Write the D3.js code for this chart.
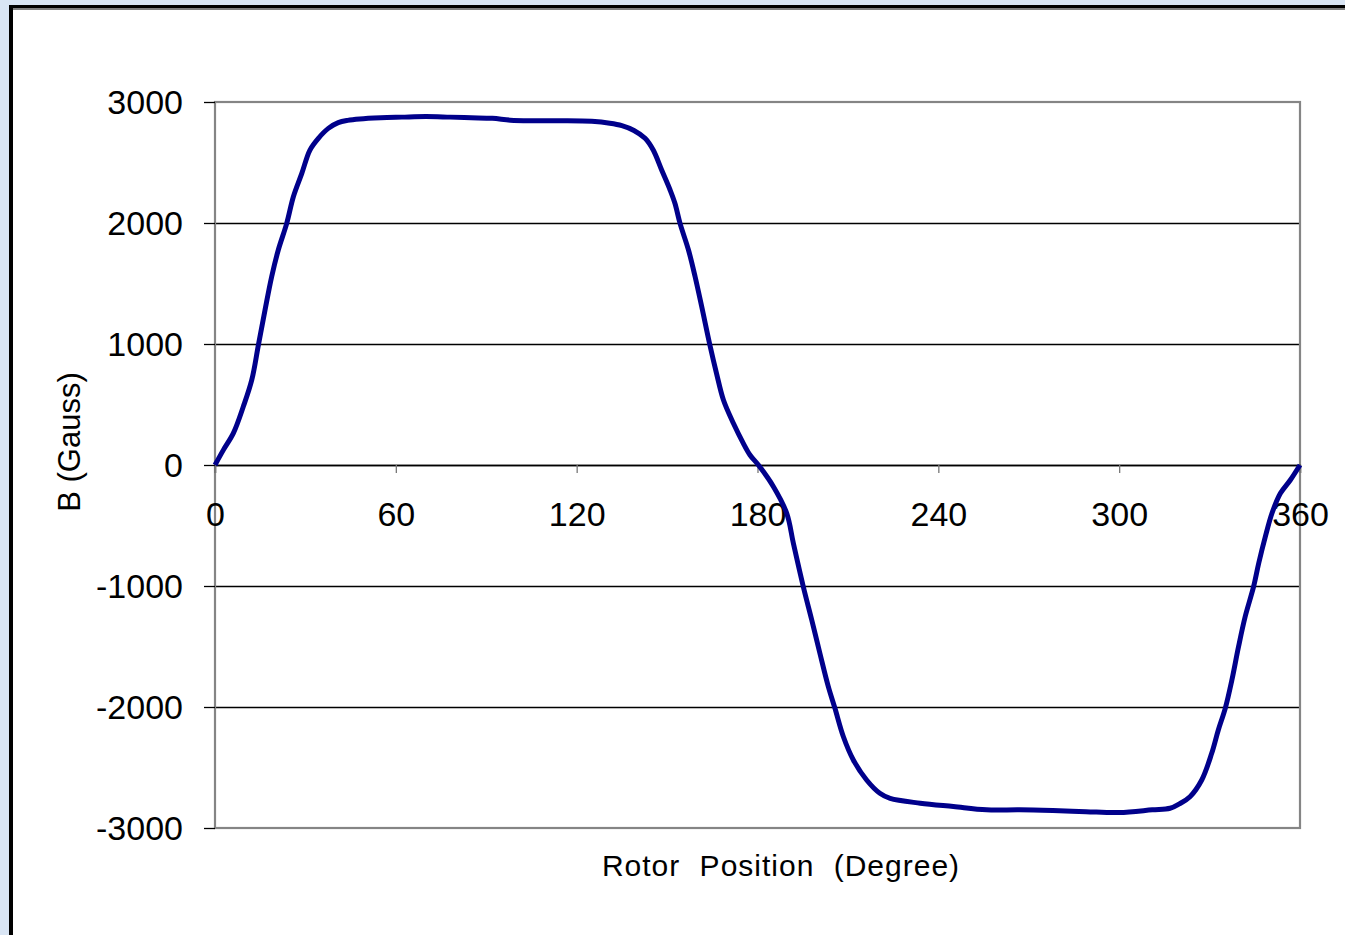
<!DOCTYPE html>
<html lang="en">
<head>
<meta charset="utf-8">
<title>rotor flux</title>
<script type="text/javascript" src="https://d3js.org/d3.v7.min.js"></script>
<style type="text/css">
    body{
        margin:0;
        padding:0;
        background:#d9e5f4;
        overflow:hidden;
    }
    text{
        font-family:"Liberation Sans", Arial, sans-serif;
        fill:#000;
    }
</style>
</head>
<body>
<div id="chart"></div>
<script type="text/javascript">
    var angle = [0, 2.8, 6.1, 9.4, 12.2, 14.4, 16.6, 18.8, 21.0, 23.8, 26.0, 28.8, 31.5, 34.3, 37.6, 40.9, 44, 48,
                 55, 62, 70, 78, 85, 92, 98, 105, 115, 125, 131, 135, 139, 142.7, 145.4, 148.2, 151.0, 152.6,
                 154.3, 157.1, 159.3, 161.5, 164.2, 166.4, 168.7, 172.0, 175.3, 177.5, 180.3, 185.3, 189.7,
                 191.9, 195.2, 198.0, 200.7, 203.5, 205.7, 208.5, 211.8, 216.2, 220.6, 224, 234, 245, 256,
                 267, 278, 289, 300, 311, 316.9, 320, 323.5, 327.4, 330.7, 332.9, 335.2, 337.4, 339.6, 341.8,
                 344.6, 346.3, 348.5, 350.7, 353.5, 356.8, 360]
    var gauss = [0, 125, 263, 483, 703, 992, 1281, 1556, 1777, 1997, 2217, 2410, 2603, 2700, 2782, 2829, 2848, 2860,
                 2870, 2875, 2880, 2875, 2870, 2865, 2850, 2845, 2845, 2840, 2825, 2805, 2765, 2700, 2603, 2438, 2273, 2163,
                 1997, 1777, 1556, 1308, 992, 758, 537, 345, 179, 83, 0, -179, -399,
                 -647, -1006, -1281, -1556, -1832, -2011, -2246, -2438, -2603, -2713, -2755, -2795, -2823, -2850,
                 -2850, -2856, -2865, -2872, -2850, -2837, -2800, -2741, -2603, -2383, -2190, -2011, -1777, -1502, -1254,
                 -1006, -812, -592, -399, -234, -124, 0]

    var xTicks = [0, 60, 120, 180, 240, 300, 360]
    var yTicks = [3000, 2000, 1000, 0, -1000, -2000, -3000]

    var W = 1345
    var H = 935
    var pLeft = 215, pRight = 1300, pTop = 102, pBottom = 828

    var svg = d3.select("#chart").append("svg")
        .attr("width", W)
        .attr("height", H)
        .style("display", "block")

    // white panel with the black frame
    svg.append("rect").attr("x", 11).attr("y", 7).attr("width", W).attr("height", H).attr("fill", "#fff")
    svg.append("line").attr("x1", 11).attr("x2", W).attr("y1", 6.5).attr("y2", 6.5)
        .attr("stroke", "#000").attr("stroke-width", 3)
    svg.append("line").attr("x1", 11).attr("x2", W).attr("y1", 9).attr("y2", 9)
        .attr("stroke", "#000").attr("stroke-width", 1.2)
    svg.append("line").attr("x1", 11).attr("x2", 11).attr("y1", 5).attr("y2", H)
        .attr("stroke", "#000").attr("stroke-width", 4)

    var x = d3.scaleLinear().domain([0, 360]).range([pLeft, pRight])
    var y = d3.scaleLinear().domain([-3000, 3000]).range([pBottom, pTop])

    // horizontal gridlines
    svg.selectAll(".grid").data(yTicks.filter(function(d){ return d != 3000 && d != -3000 }))
        .enter().append("line")
        .attr("class", "grid")
        .attr("x1", pLeft).attr("x2", pRight)
        .attr("y1", function(d){ return Math.round(y(d)) + 0.5 })
        .attr("y2", function(d){ return Math.round(y(d)) + 0.5 })
        .attr("stroke", "#000")
        .attr("stroke-width", 1.3)

    // plot frame
    svg.append("rect")
        .attr("x", pLeft).attr("y", pTop)
        .attr("width", pRight - pLeft).attr("height", pBottom - pTop)
        .attr("fill", "none")
        .attr("stroke", "#858585")
        .attr("stroke-width", 2.2)

    var plain = function(d){ return String(d) }

    // y axis ticks and labels
    var yAxis = d3.axisLeft(y).tickValues(yTicks).tickSize(11).tickPadding(21).tickFormat(plain)
    var gy = svg.append("g").attr("transform", "translate(" + pLeft + ",0)").call(yAxis)
    gy.select(".domain").remove()
    gy.selectAll("line").attr("stroke", "#000").attr("stroke-width", 1.3)
    gy.selectAll("text").style("font-size", "34px").attr("font-family", null).attr("dy", "0.33em")

    // x axis sits on the zero line
    var xAxis = d3.axisBottom(x).tickValues(xTicks).tickSize(8).tickPadding(29).tickFormat(plain)
    var gx = svg.append("g").attr("transform", "translate(0," + y(0) + ")").call(xAxis)
    gx.select(".domain").attr("stroke", "#000").attr("stroke-width", 1.3)
    gx.selectAll("line").attr("stroke", "#777").attr("stroke-width", 1.3)
    gx.selectAll("text").style("font-size", "34px").attr("font-family", null)

    // the measured curve
    var pts = angle.map(function(a, i){ return [a, gauss[i]] })
    var line = d3.line()
        .x(function(d){ return x(d[0]) })
        .y(function(d){ return y(d[1]) })
        .curve(d3.curveCatmullRom.alpha(0.5))

    svg.append("path")
        .datum(pts)
        .attr("d", line)
        .attr("fill", "none")
        .attr("stroke", "#00008b")
        .attr("stroke-width", 5)
        .attr("stroke-linejoin", "round")

    // axis titles
    svg.append("text")
        .attr("x", 781)
        .attr("y", 876)
        .attr("text-anchor", "middle")
        .style("font-size", "30px")
        .style("word-spacing", "10px")
        .style("letter-spacing", "1px")
        .text("Rotor Position (Degree)")

    svg.append("text")
        .attr("transform", "translate(80,442) rotate(-90)")
        .attr("text-anchor", "middle")
        .style("font-size", "31px")
        .text("B (Gauss)")
</script>
</body>
</html>
